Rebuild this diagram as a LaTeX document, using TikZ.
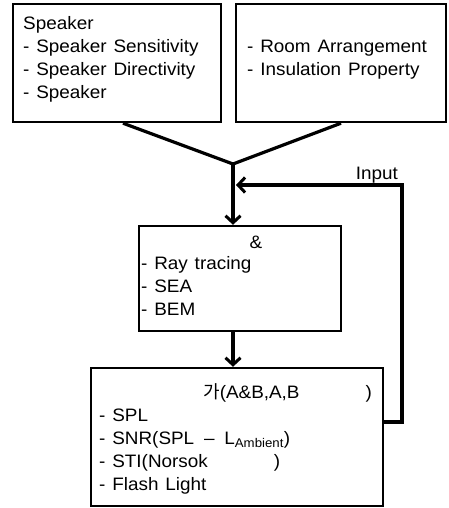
\documentclass[tikz,border=0pt]{standalone}
\usepackage{fontspec}
\setmainfont{Liberation Sans}[WordSpace=1.3,FakeStretch=1.05]
\newfontfamily\krfont{Noto Sans CJK KR}
\usetikzlibrary{arrows.meta,calc}
\begin{document}
\begin{tikzpicture}[x=1pt,y=-1pt,
  box/.style={draw,line width=2.4pt,inner sep=0pt},
  txt/.style={inner sep=0pt,align=left,font=\fontsize{18}{23}\selectfont},
  link/.style={line width=3.2pt},
  flow/.style={line width=3.2pt,-{Straight Barb[length=7pt,width=15pt,line width=3pt]}}]
\useasboundingbox (0,0) rectangle (448,508);

% input boxes (text nodes are anchored at the baseline of their last line)
\node[box,minimum width=208pt,minimum height=118pt] (b1) at (117,63) {};
\node[box,minimum width=210pt,minimum height=118pt] (b2) at (341,63) {};
\node[txt,anchor=base west] (t1) at (23,98.5)
  {Speaker\\- Speaker Sensitivity\\- Speaker Directivity\\- Speaker};
\node[txt,anchor=base west] (t2) at (247,76)
  {- Room Arrangement\\- Insulation Property};

% analysis box
\node[txt,anchor=base] (amp) at (256,248) {\&};
\node[box,minimum width=202pt,minimum height=105pt] (b3) at (240,278.5) {};
\node[txt,anchor=base west] (t3) at (141,315)
  {- Ray tracing\\- SEA\\- BEM};

% result box
\node[box,minimum width=292pt,minimum height=138pt] (b4) at (237,437) {};
\node[txt,anchor=base west] (t4a) at (203,398)
  {{\krfont 가}(A\&B,A,B\hspace{66pt})};
\node[txt,anchor=base west] (t4) at (99,490)
  {- SPL\\- SNR(SPL \,–\, L\textsubscript{Ambient})\\- STI(Norsok\hspace{66pt})\\- Flash Light};

% merging lines and flow
\coordinate (J) at (233,164);
\coordinate (s1) at ($(b1.south)+(6,0)$);
\draw[link,line join=miter] (s1) -- (J) -- (b2.south);
\draw[flow] (J) -- (J |- b3.north);
\draw[flow] (b3.south -| J) -- (J |- b4.north);

% feedback loop
\coordinate (fb) at ($(b4.east)+(0,-15)$);
\coordinate (fc) at (402,185);
\draw[flow] (fb) -| (fc) -- ($(J |- fc)+(3,0)$);
\node[txt,anchor=base east] (inp) at (398,179) {Input};
\end{tikzpicture}
\end{document}
